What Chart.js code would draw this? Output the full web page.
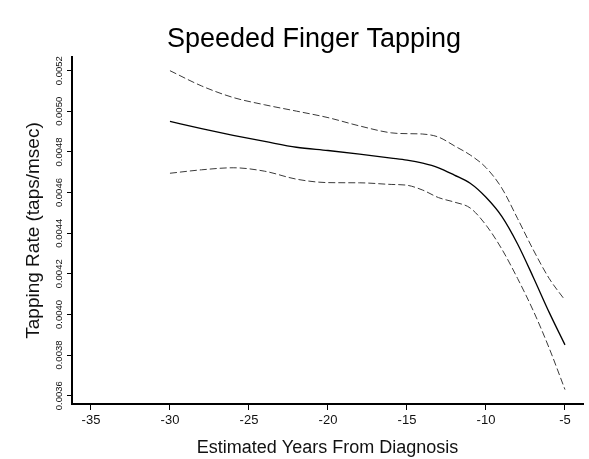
<!DOCTYPE html>
<html>
<head>
<meta charset="utf-8">
<script src="https://cdn.jsdelivr.net/npm/chart.js@4"></script>
<style>
  html, body { margin: 0; padding: 0; background: #fff; }
  #wrap { width: 589px; height: 459px; }
</style>
</head>
<body>
<div id="wrap"><canvas id="c" width="589" height="459"></canvas></div>
<script>
// ---- data ----
const chartTitle = "Speeded Finger Tapping";
const xAxisTitle = "Estimated Years From Diagnosis";
const yAxisTitle = "Tapping Rate (taps/msec)";

const years = [-30, -28, -26, -24, -22, -20, -18, -16, -15, -14, -13, -12, -11, -10, -9, -8, -7, -6, -5];
const fitted = [0.00495, 0.004915, 0.004882, 0.004852, 0.004823, 0.004807, 0.004789, 0.00477, 0.00476, 0.004745, 0.004722, 0.004686, 0.004646, 0.004577, 0.004483, 0.004347, 0.004182, 0.00401, 0.00385];
const upperBand = [0.0052, 0.005125, 0.005068, 0.005032, 0.005001, 0.004969, 0.004928, 0.004894, 0.00489, 0.004888, 0.004873, 0.00483, 0.004785, 0.004723, 0.004622, 0.004472, 0.004317, 0.004177, 0.00407];
const lowerBand = [0.004695, 0.004712, 0.004722, 0.004705, 0.004666, 0.004649, 0.004648, 0.00464, 0.004636, 0.004612, 0.004575, 0.004553, 0.004524, 0.00444, 0.004322, 0.004177, 0.004017, 0.003834, 0.00363];

const xTickValues = [-35, -30, -25, -20, -15, -10, -5];
const xTickLabels = ["-35", "-30", "-25", "-20", "-15", "-10", "-5"];
const yTickValues = [0.0036, 0.0038, 0.0040, 0.0042, 0.0044, 0.0046, 0.0048, 0.0050, 0.0052];
const yTickLabels = ["0.0036", "0.0038", "0.0040", "0.0042", "0.0044", "0.0046", "0.0048", "0.0050", "0.0052"];

const FONT = "'Liberation Sans', Arial, Helvetica, sans-serif";

const toPts = (ys) => years.map((x, i) => ({ x: x, y: ys[i] }));

const titlePlugin = {
  id: 'customTitle',
  afterDraw(chart) {
    const ctx = chart.ctx;
    ctx.save();
    ctx.font = "27px " + FONT;
    ctx.fillStyle = "#000";
    ctx.textAlign = "center";
    ctx.textBaseline = "alphabetic";
    ctx.fillText(chartTitle, 314, 47);
    ctx.restore();
  }
};

new Chart(document.getElementById('c'), {
  type: 'line',
  data: {
    datasets: [
      { label: 'upper', data: toPts(upperBand), borderColor: '#3a3a3a', borderWidth: 1, borderDash: [7, 3], pointRadius: 0, cubicInterpolationMode: 'monotone', fill: false },
      { label: 'fit', data: toPts(fitted), borderColor: '#000', borderWidth: 1.3, pointRadius: 0, cubicInterpolationMode: 'monotone', fill: false },
      { label: 'lower', data: toPts(lowerBand), borderColor: '#3a3a3a', borderWidth: 1, borderDash: [7, 3], pointRadius: 0, cubicInterpolationMode: 'monotone', fill: false }
    ]
  },
  options: {
    responsive: false,
    animation: false,
    devicePixelRatio: 1,
    layout: { padding: { top: 57, right: 6, left: 0, bottom: 0 } },
    plugins: { legend: { display: false }, title: { display: false }, tooltip: { enabled: false } },
    scales: {
      x: {
        type: 'linear',
        min: -36.2,
        max: -3.86,
        afterBuildTicks: (s) => { s.ticks = xTickValues.map(v => ({ value: v })); },
        afterFit: (s) => { s.height = 55; },
        ticks: {
          font: { family: FONT, size: 13 },
          color: '#111',
          padding: 3,
          maxRotation: 0,
          callback: (v) => { const i = xTickValues.indexOf(v); return i >= 0 ? xTickLabels[i] : ''; }
        },
        grid: { display: true, drawOnChartArea: false, drawTicks: true, tickLength: 6, color: '#000', lineWidth: 1 },
        border: { display: true, color: '#000', width: 2 },
        title: { display: true, text: xAxisTitle, font: { family: FONT, size: 18 }, color: '#111', padding: { top: 0, bottom: 0 } }
      },
      y: {
        type: 'linear',
        min: 0.003559,
        max: 0.0052674,
        afterBuildTicks: (s) => { s.ticks = yTickValues.map(v => ({ value: v })); },
        afterFit: (s) => { s.width = 72; },
        ticks: {
          font: { family: FONT, size: 9.5 },
          color: '#111',
          minRotation: 90,
          maxRotation: 90,
          crossAlign: 'center',
          padding: -7,
          callback: (v) => { const i = yTickValues.findIndex(t => Math.abs(t - v) < 1e-9); return i >= 0 ? yTickLabels[i] : ''; }
        },
        grid: { display: true, drawOnChartArea: false, drawTicks: true, tickLength: 5, color: '#000', lineWidth: 1 },
        border: { display: true, color: '#000', width: 2 },
        title: { display: true, text: yAxisTitle, font: { family: FONT, size: 19 }, color: '#111', padding: { top: 22.6, bottom: 0 } }
      }
    }
  },
  plugins: [titlePlugin]
});
</script>
</body>
</html>
